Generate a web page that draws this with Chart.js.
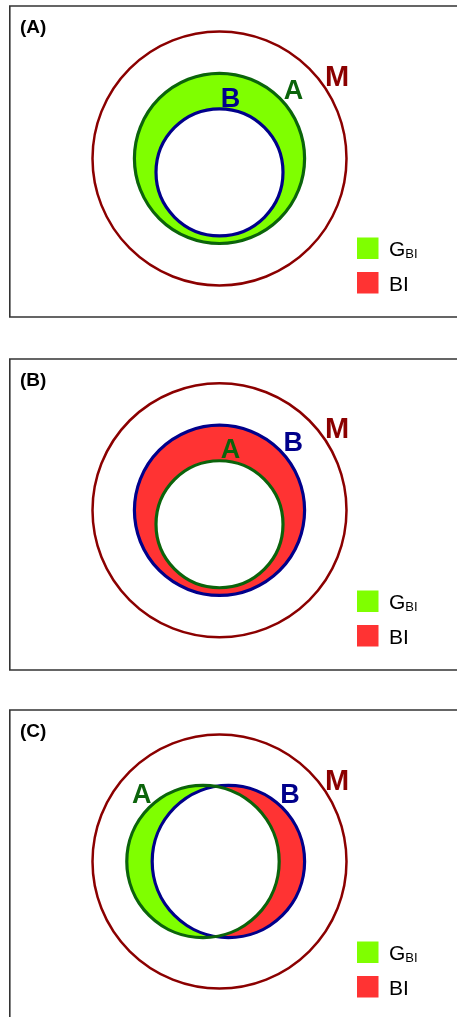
<!DOCTYPE html>
<html>
<head>
<meta charset="utf-8">
<script src="https://cdn.jsdelivr.net/npm/chart.js@4.4.1/dist/chart.umd.min.js"></script>
<style>
  html, body { margin: 0; padding: 0; background: #ffffff; }
  body { width: 457px; height: 1017px; position: relative; overflow: hidden; }
  canvas { position: absolute; left: 0; }
</style>
</head>
<body>
<canvas id="panelA" width="457" height="350" style="top:0px"></canvas>
<canvas id="panelB" width="457" height="350" style="top:350px"></canvas>
<canvas id="panelC" width="457" height="317" style="top:700px"></canvas>
<script>
// Sets shown in every panel: the universe M and the two sets A and B
const setNames = ['M', 'A', 'B'];
const panelTitles = ['(A)', '(B)', '(C)'];

// Circle centres and radii in diagram units (M has radius 100), order M, A, B
const centreXA = [0, 0, 0];
const centreYA = [0, 0, -11];
const radiusA  = [100, 67, 50];

const centreXB = [0, 0, 0];
const centreYB = [0, -11, 0];
const radiusB  = [100, 50, 67];

const centreXC = [0, -13, 7];
const centreYC = [0, 0, 0];
const radiusC  = [100, 60, 60];

// Legend entries: main text and subscript
const legendMain = ['G', 'BI'];
const legendSub  = ['BI', ''];

// ---- styling ----
const FONT = '"Liberation Sans", Arial, Helvetica, sans-serif';
const strokeColours = ['#8b0000', '#0b640b', '#00008b'];
const strokeWidths = [2.5, 3.2, 3.2];
const fillOnlyA = '#7fff00';   // G_BI : in A but not in B
const fillOnlyB = '#ff3333';   // BI   : in B but not in A
const legendFills = [fillOnlyA, fillOnlyB];

const PX_PER_UNIT = 1.27;
const CENTRE_X_PX = 219.5;

const panels = [
  { id: 'panelA', height: 350, frameTop: 6,  frameBottom: 317, centreY: 158.4,
    cx: centreXA, cy: centreYA, r: radiusA,
    labelAt: { M: [92.5, 57], A: [58.3, 46.5], B: [8.7, 40.5] } },
  { id: 'panelB', height: 350, frameTop: 9,  frameBottom: 320, centreY: 160.3,
    cx: centreXB, cy: centreYB, r: radiusB,
    labelAt: { M: [92.5, 57], A: [8.7, 40.8], B: [58.1, 46.5] } },
  { id: 'panelC', height: 317, frameTop: 10, frameBottom: null, centreY: 161.5,
    cx: centreXC, cy: centreYC, r: radiusC,
    labelAt: { M: [92.5, 56.5], A: [-61.3, 46], B: [55.5, 46.3] } }
];

function circlePath(chart, idx) {
  const { ctx, scales: { x, y } } = chart;
  const d = chart.data.datasets[idx].data[0];
  const px = x.getPixelForValue(d.x);
  const py = y.getPixelForValue(d.y);
  const pr = x.getPixelForValue(d.x + d.r) - px;
  ctx.beginPath();
  ctx.arc(px, py, pr, 0, Math.PI * 2);
}

// Paints the frame and the two difference regions underneath the circle outlines
const regionPlugin = {
  id: 'regions',
  beforeDatasetsDraw(chart, args, opts) {
    const ctx = chart.ctx;
    ctx.save();
    // panel frame (right edge runs off the page)
    ctx.strokeStyle = '#333333';
    ctx.lineWidth = 1.6;
    ctx.beginPath();
    const bottom = opts.frameBottom == null ? chart.height + 10 : opts.frameBottom;
    ctx.moveTo(chart.width + 10, opts.frameTop);
    ctx.lineTo(9.8, opts.frameTop);
    ctx.lineTo(9.8, bottom);
    ctx.lineTo(chart.width + 10, bottom);
    ctx.stroke();

    const iA = setNames.indexOf('A');
    const iB = setNames.indexOf('B');
    circlePath(chart, iA); ctx.fillStyle = fillOnlyA; ctx.fill();
    circlePath(chart, iB); ctx.fillStyle = fillOnlyB; ctx.fill();
    circlePath(chart, iA); ctx.clip();
    circlePath(chart, iB); ctx.fillStyle = '#ffffff'; ctx.fill();
    ctx.restore();
  },
  afterDatasetsDraw(chart, args, opts) {
    const { ctx, scales: { x, y } } = chart;
    ctx.save();
    ctx.textBaseline = 'alphabetic';

    // panel title
    ctx.fillStyle = '#000000';
    ctx.font = 'bold 19px ' + FONT;
    ctx.textAlign = 'left';
    ctx.fillText(opts.title, 20, opts.frameTop + 26.5);

    // set labels
    ctx.textAlign = 'center';
    setNames.forEach((name, i) => {
      const p = opts.labelAt[name];
      ctx.font = (name === 'M' ? 'bold 29px ' : 'bold 27px ') + FONT;
      ctx.fillStyle = strokeColours[i];
      ctx.fillText(name, x.getPixelForValue(p[0]), y.getPixelForValue(p[1]));
    });

    // legend
    ctx.textAlign = 'left';
    legendMain.forEach((txt, i) => {
      const top = opts.frameTop + 231.5 + i * 34.5;
      ctx.fillStyle = legendFills[i];
      ctx.fillRect(357, top, 21.5, 21.5);
      ctx.fillStyle = '#000000';
      ctx.font = '21px ' + FONT;
      const base = top + 18.5;
      ctx.fillText(txt, 389, base);
      if (legendSub[i]) {
        const w = ctx.measureText(txt).width;
        ctx.font = '13px ' + FONT;
        ctx.fillText(legendSub[i], 389 + w, base + 1.5);
      }
    });
    ctx.restore();
  }
};

panels.forEach((p, k) => {
  const datasets = setNames.map((name, i) => ({
    label: name,
    data: [{ x: p.cx[i], y: p.cy[i], r: p.r[i] }],
    pointRadius: (c) => {
      const d = c.raw;
      if (!d) return 0;
      const s = c.chart.scales.x;
      return s.getPixelForValue(d.x + d.r) - s.getPixelForValue(d.x);
    },
    pointBackgroundColor: 'rgba(0,0,0,0)',
    pointBorderColor: strokeColours[i],
    pointBorderWidth: strokeWidths[i],
    showLine: false
  }));

  new Chart(document.getElementById(p.id), {
    type: 'scatter',
    data: { datasets },
    options: {
      responsive: false,
      animation: false,
      events: [],
      layout: { padding: 0 },
      plugins: {
        legend: { display: false },
        tooltip: { enabled: false },
        regions: {
          title: panelTitles[k],
          frameTop: p.frameTop,
          frameBottom: p.frameBottom,
          labelAt: p.labelAt
        }
      },
      scales: {
        x: { type: 'linear', display: false,
             min: -CENTRE_X_PX / PX_PER_UNIT,
             max: (457 - CENTRE_X_PX) / PX_PER_UNIT },
        y: { type: 'linear', display: false,
             min: -(p.height - p.centreY) / PX_PER_UNIT,
             max: p.centreY / PX_PER_UNIT }
      }
    },
    plugins: [regionPlugin]
  });
});
</script>
</body>
</html>
